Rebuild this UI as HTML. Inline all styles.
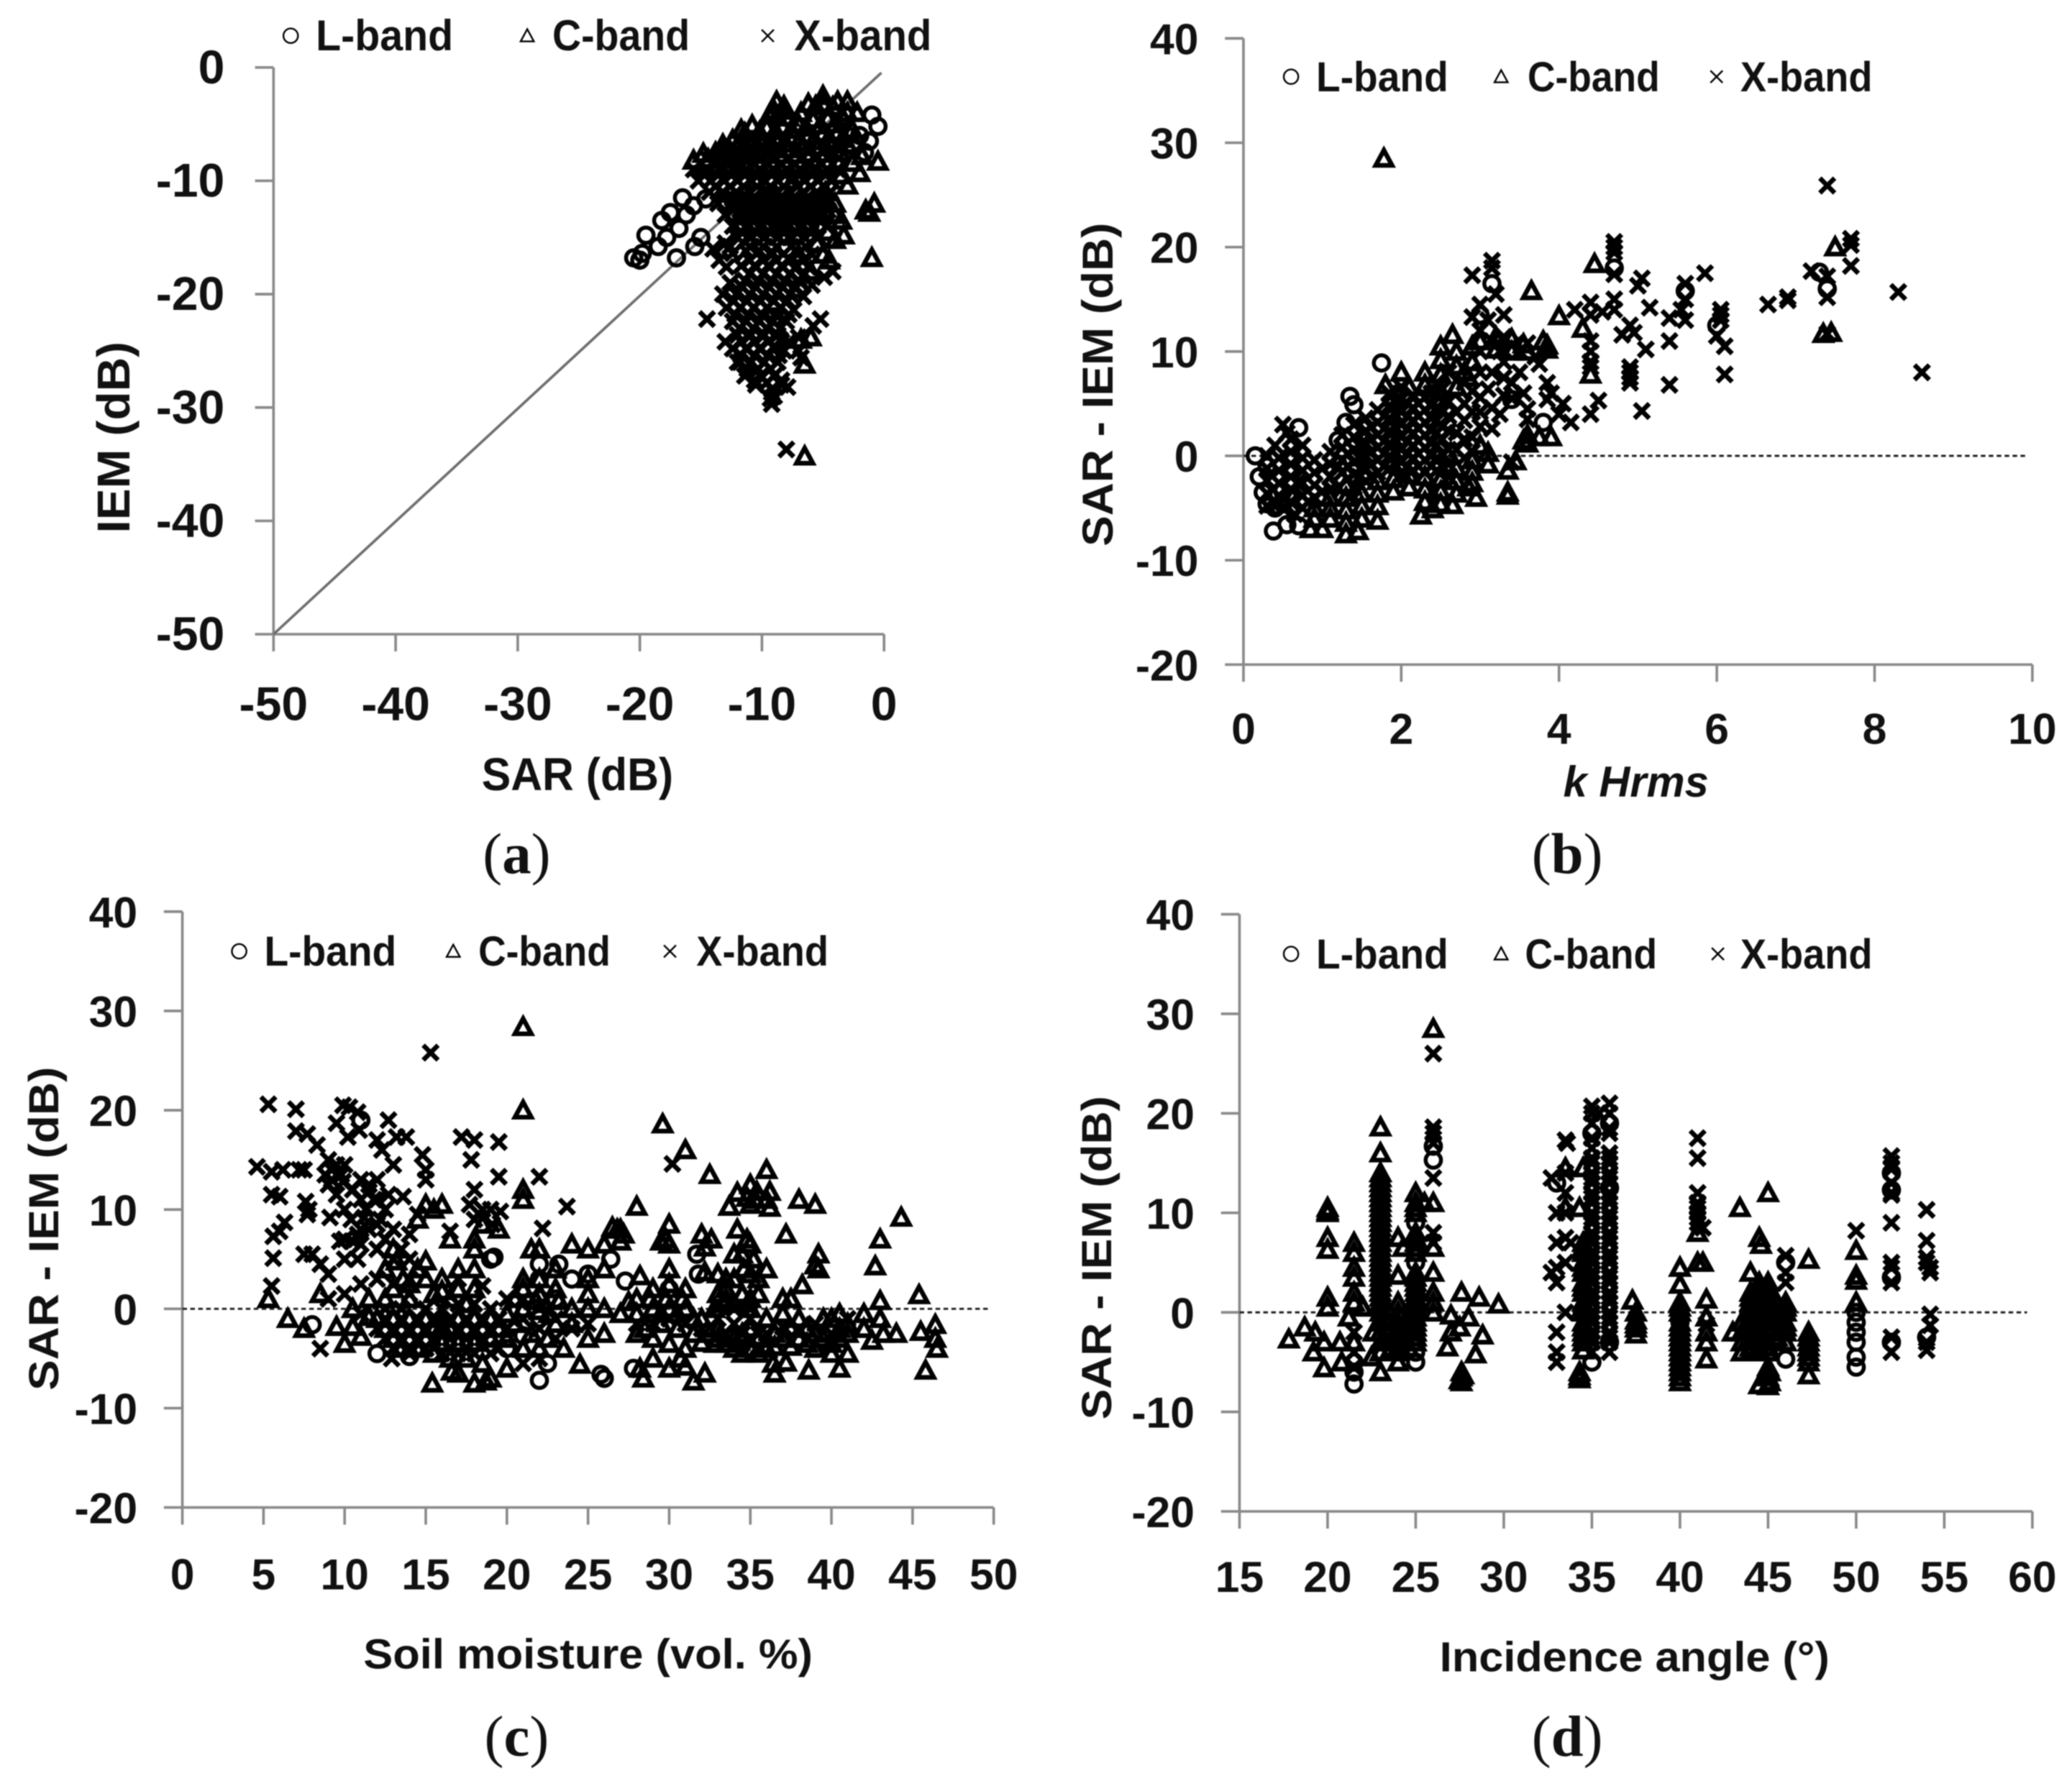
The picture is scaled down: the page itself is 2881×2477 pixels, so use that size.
<!DOCTYPE html>
<html lang="en">
<head>
<meta charset="utf-8">
<title>SAR vs IEM backscatter comparison</title>
<style>
html,body{margin:0;padding:0;background:#fff;}
#figure{display:block;width:2881px;height:2477px;filter:blur(0.9px);}
text{font-family:"Liberation Sans",sans-serif;font-weight:bold;fill:#111;}
.cap{font-family:"Liberation Serif",serif;font-weight:normal;font-size:44px;}
</style>
</head>
<body>
<svg id="figure" xmlns="http://www.w3.org/2000/svg" width="2881" height="2477" viewBox="0 0 1568 1348">
<rect width="1568" height="1348" fill="#fff"/>
<text class="cap" x="391" y="661" text-anchor="middle">(<tspan font-weight="bold">a</tspan>)</text>
<text class="cap" x="1186" y="661" text-anchor="middle">(<tspan font-weight="bold">b</tspan>)</text>
<text class="cap" x="391" y="1329" text-anchor="middle">(<tspan font-weight="bold">c</tspan>)</text>
<text class="cap" x="1186" y="1329" text-anchor="middle">(<tspan font-weight="bold">d</tspan>)</text>
</svg>
<script>
// ---------- tick labels ----------
const aTicks=[-50,-40,-30,-20,-10,0];
const bXTicks=[0,2,4,6,8,10];
const cXTicks=[0,5,10,15,20,25,30,35,40,45,50];
const dXTicks=[15,20,25,30,35,40,45,50,55,60];
const diffTicks=[-20,-10,0,10,20,30,40];
const bandNames=["L-band","C-band","X-band"];

// ---------- panel (a): SAR (x) vs IEM (y) ----------
const aL=[[-20.5,-16.8],[-20,-17],[-19.8,-16.4],[-19.5,-14.8],[-18.5,-15.8],[-18.2,-13.5],[-17.5,-12.8],[-17,-16.8],[-17.8,-15],[-16.5,-11.5],[-16.2,-13],[-15.5,-15.8],[-15,-15],[-16.8,-14.2],[-15.6,-12.2],[-0.5,-5.2],[-1,-4.2],[-1.2,-6.5],[-2,-6],[-2.5,-7],[-3,-6],[-1.6,-7.5],[-14.6,-11.6],[-8,-16],[-7,-19.5],[-9,-22]];
const aC=[[-6.5,-34.3],[-1,-16.8],[-0.8,-12],[-1.5,-12.6],[-1.2,-12.8],[-0.5,-8.3],[-2,-9.3],[-3,-10.4],[-3.5,-13.5],[-3.3,-14.8],[-4,-15.2],[-6,-23.8],[-6.5,-26.2],[-4.5,-17],[-4,-13],[-2.6,-8.4],[-3.5,-9.5],[-1.8,-7.8],
[-8.8,-3],[-8.2,-3.4],[-9.4,-4.2],[-5,-2.5],[-3,-3],[-4.2,-3.5],[-5.6,-3.4],[-6.8,-4],[-7.8,-4.4],[-2.2,-4],[-3.4,-4.4],[-4.6,-4.5],[-5.8,-4.6],[-7,-5],[-8.3,-5.2],[-9.6,-5.3],[-10.8,-5.1],[-11.7,-5.5],[-2.6,-5.5],[-3.8,-5.7],[-5,-5.8],[-6.2,-6],[-7.4,-6.1],[-8.8,-6.2],[-10,-6.3],[-11.2,-6.3],[-12.4,-6.4],[-13.2,-6.8],[-3,-6.8],[-4.2,-6.8],[-5.4,-7],[-6.6,-7],[-7.8,-7.2],[-9,-7.2],[-10.2,-7.3],[-11.4,-7.3],[-12.6,-7.4],[-13.8,-7.5],[-14.8,-7.6],[-15.6,-8.2],
[-4,-12],[-4.8,-11],[-5.4,-13],[-4.6,-14.5],[-5.5,-15.5],[-5,-16.5],[-6,-18],[-7,-16.5],[-8,-14],[-6.5,-12.5],[-9,-11],[-10.5,-10],[-12,-9],[-6,-9],[-7.5,-10],[-6.8,-24],
[-9,-3.8],[-8,-3.8],[-6.2,-3.2],[-5,-3.2],[-3.8,-3],[-3,-4],[-4,-5],[-5.2,-5.1],[-6.4,-5.3],[-7.6,-5.5],[-8.9,-5.6],[-10.2,-5.7],[-11.4,-5.8],[-3.4,-6.3],[-4.6,-6.4],[-5.8,-6.5],[-7,-6.6],[-8.2,-6.7],[-9.5,-6.8],[-10.8,-6.8],[-12,-6.9],[-13.2,-7.2],[-3.6,-7.5],[-4.8,-7.6],[-6,-7.6],[-7.2,-7.7],[-8.4,-7.7],[-9.6,-7.7],[-10.8,-7.7],[-12,-7.8],[-13.2,-7.9],[-14.4,-8.1]];
const aX=[[-8,-33.7],[-14.5,-22.2],[-13,-24.2],[-5.2,-22.2],[-5.8,-22.8],[-9.2,-29.7],[-9.3,-29.2],[-9,-29],[-7.9,-28.2],[-8.4,-27.6],[-10.5,-28],[-11.2,-27],[-11.8,-26],[-7,-23.8],[-7,-25],[-6.8,-25.6],
[-14.5,-8],[-13.4,-8],[-12.3,-8],[-11.2,-8],[-10.1,-8],[-9,-8],[-7.9,-8],[-6.8,-8],[-5.7,-8],[-4.6,-8],[-3.7,-8],
[-15.6,-9],[-14.6,-9],[-13.5,-9],[-12.4,-9],[-11.3,-9],[-10.2,-9],[-9.1,-9],[-8,-9],[-6.9,-9],[-5.8,-9],[-4.7,-9],[-3.8,-9],
[-15.2,-10],[-14.2,-10],[-13.1,-10],[-12,-10],[-10.9,-10],[-9.8,-10],[-8.7,-10],[-7.6,-10],[-6.5,-10],[-5.4,-10],[-4.3,-10],
[-14.3,-11],[-13.2,-11],[-12.1,-11],[-11,-11],[-9.9,-11],[-8.8,-11],[-7.7,-11],[-6.6,-11],[-5.5,-11],[-4.4,-11],
[-13.6,-12],[-12.5,-12],[-11.4,-12],[-10.3,-12],[-9.2,-12],[-8.1,-12],[-7,-12],[-5.9,-12],[-4.8,-12],
[-13,-13],[-11.9,-13],[-10.8,-13],[-9.7,-13],[-8.6,-13],[-7.5,-13],[-6.4,-13],[-5.3,-13],
[-12.4,-14],[-11.3,-14],[-10.2,-14],[-9.1,-14],[-8,-14],[-6.9,-14],[-5.8,-14],[-4.7,-14],
[-14,-16],[-13,-15.5],[-12,-15],[-10.9,-15],[-9.8,-15],[-8.7,-15],[-7.6,-15],[-6.5,-15],[-5.4,-15],
[-13.5,-17],[-12.4,-16.4],[-11.3,-16.2],[-10.2,-16.2],[-9.1,-16.4],[-7,-16.4],[-5.9,-16.5],
[-12.9,-17.6],[-11.7,-17.5],[-10.6,-17.5],[-9.5,-17.5],[-8.4,-17.5],[-7.3,-17.7],[-6.2,-17.6],[-4.9,-18.5],[-4.2,-18],
[-12.6,-19],[-11.4,-18.8],[-10.3,-18.8],[-9.2,-18.8],[-8.1,-18.8],[-7,-18.8],[-5.9,-19.2],
[-13.2,-20],[-12.1,-20],[-11,-20],[-9.9,-20],[-8.8,-20],[-7.7,-20],[-6.6,-20.2],
[-12.9,-21.2],[-11.8,-21.2],[-10.7,-21.2],[-9.6,-21.2],[-8.5,-21.2],[-7.4,-21.4],
[-12.4,-22.4],[-11.3,-22.4],[-10.2,-22.4],[-9.1,-22.4],[-8,-22.4],
[-12,-23.6],[-10.9,-23.6],[-9.8,-23.6],[-8.7,-23.6],[-7.8,-24.2],
[-12.4,-24.8],[-11.3,-24.8],[-10.2,-24.8],[-9,-24.6],[-8.2,-25],
[-12,-26],[-10.9,-26],[-9.8,-26],[-8.7,-26],[-11.4,-27.2],[-10.1,-27.2],[-9,-27.2],[-8.4,-28],
[-15,-8.5],[-13.9,-8.5],[-12.8,-8.5],[-11.7,-8.5],[-10.6,-8.5],[-9.5,-8.5],[-8.4,-8.5],[-7.3,-8.5],[-6.2,-8.5],[-5.1,-8.5],[-4.2,-8.5],
[-14.7,-9.5],[-13.6,-9.5],[-12.5,-9.5],[-11.4,-9.5],[-10.3,-9.5],[-9.2,-9.5],[-8.1,-9.5],[-7,-9.5],[-5.9,-9.5],[-4.8,-9.5],
[-13.8,-10.5],[-12.6,-10.5],[-11.5,-10.5],[-10.4,-10.5],[-9.3,-10.5],[-8.2,-10.5],[-7.1,-10.5],[-6,-10.5],[-4.9,-10.5],
[-13.2,-11.6],[-12,-11.6],[-10.8,-11.6],[-9.7,-11.6],[-8.6,-11.6],[-7.5,-11.6],[-6.4,-11.6],[-5.3,-11.6],
[-12.4,-12.6],[-11.3,-12.6],[-10.2,-12.6],[-9.1,-12.6],[-8,-12.6],[-6.9,-12.6],[-5.8,-12.6],[-4.6,-12.6],
[-11.8,-13.6],[-10.7,-13.6],[-9.6,-13.6],[-8.5,-13.6],[-7.4,-13.6],[-6.3,-13.6],[-5.2,-13.6],
[-11.6,-14.6],[-10.4,-14.6],[-9.3,-14.6],[-8.2,-14.6],[-7.1,-14.6],[-6,-14.6],
[-12.6,-15.8],[-11,-15.8],[-9.9,-15.8],[-8.8,-15.8],[-7.6,-15.8],[-6.4,-15.8],
[-11,-17],[-9.9,-17],[-8.8,-17],[-7.7,-17],[-6.6,-17],
[-11,-18.2],[-9.9,-18.2],[-8.8,-18.2],[-7.7,-18.2],[-6.5,-18.2],
[-11.6,-19.4],[-10.5,-19.4],[-9.4,-19.4],[-8.3,-19.4],[-7.2,-19.4],
[-11.2,-20.6],[-10.1,-20.6],[-9,-20.6],[-7.9,-20.6],
[-12.3,-20.6],[-12.2,-21.8],[-11.1,-21.8],[-10,-21.8],[-8.9,-21.8],[-7.8,-21.8],[-11.8,-23],[-10.7,-23],[-9.6,-23],[-8.5,-23],[-11.7,-24.2],[-10.6,-24.2],[-9.5,-24.2],[-8.4,-24.2],[-11.7,-25.4],[-10.6,-25.4],[-9.5,-25.4],[-8.6,-25.4],[-11.2,-26.6],[-10.3,-26.6],[-9.3,-26.6],[-10.6,-27.6],[-9.6,-27.8],[-9.2,-28.4]];

// ---------- panel (b): k Hrms (x) vs SAR-IEM (y) ----------
const bL=[[0.15,0],[0.38,-7.2],[0.55,-6.6],[0.7,2.7],[0.7,-6.7],[1.35,5.7],[1.4,4.9],[1.75,8.9],[1.3,3.2],[3.15,16.5],[3,13.5],[4.7,18],[5.6,15.8],[6,12.5],[7.4,16],[7.3,17.6],[0.2,-2],[0.25,-3.5],[0.3,-4.6],[0.4,-5],[0.3,-1],[0.5,-3.4],[0.5,-4.6],[1.2,1.5],[3.4,5.4],[3.8,3.2]];
const bC=[[1.78,28.5],[3.65,15.8],[4.45,18.4],[7.5,20],[7.45,11.8],[7.35,11.7],[4,13.4],[4.3,12.2],[2.65,11.6],[2.5,10.5],[2.9,10.5],[3.4,11.2],[3.55,10.7],[3.8,11],[3.85,10.2],[2,8],[2.3,8],[1.8,6.8],[2.8,8],[2.85,7.5],[4.4,7.8],[3.6,2],[3.9,1.8],[3.55,1.5],[3,1],[3.1,0.3],[3.35,-1.4],[3.45,-0.5],[3.35,-3.5],[3.35,-3.8],[2.95,-4],[2.85,-3],[2.9,-1.5],[2.65,-4.7],[2.4,-5.1],[2.25,-5.7],[1.7,-6.2],[1.45,-7.2],[1.3,-7.5],[0.85,-7],[1,-7],[1.1,-6],
[0.9,-6],[0.9,-5],[1.1,-5],[1.1,-4],[1.3,-6.4],[1.3,-5.2],[1.3,-4],[1.3,-2.8],[1.5,-6],[1.5,-4.8],[1.5,-3.6],[1.7,-4.8],[1.7,-3.6],[1.7,-2.4],[1.9,-3.4],[1.9,-2.2],[2.1,-3],[2.1,-1.8],[2.3,-4.4],[2.3,-3.2],[2.3,-2],[2.5,-4.6],[2.5,-3.4],[2.5,-2.2],[2.7,-3.6],[2.7,-2.4],[2.7,-1.2],[2.9,-2.6],[2.9,-0.4],[3.1,-0.8],
[2.5,9.2],[2.7,10],[2.5,7.8],[2.7,8.6],[2.9,9],[3.2,10.2],[3.4,10],[2.3,6.8],[2.1,6.6],[1.9,5.6],[2.5,6.2],[2.7,6.6],[3.85,10.6],[3.6,10],[3.2,11.4],[3,11],[3.75,1.8],[3.6,1.2]];
const bX=[[0.5,3],[0.55,2.2],[2.9,17.3],[3.15,18.7],[3.15,18],[3.2,15.5],[3,14.5],[2.9,13.3],[3.1,13],[3.3,13.5],[3.7,9.5],[3.85,7],[3.9,6],[4.05,5],[4.15,3.2],[4,4],[3.55,6],[3.6,4.5],[3.6,3.5],[3.4,5.5],[3.3,7.5],[3.4,7],[4.2,14],[4.4,14.7],[4.4,13.5],[4.55,13.8],[4.4,11],[4.4,10],[4.4,9],[4.4,8.5],[4.4,4],[4.5,5.3],[4.7,20.5],[4.7,20],[4.7,19.5],[4.7,17.4],[4.7,15],[4.7,14],[4.8,11.6],[4.9,12.5],[4.95,11.8],[4.9,8.5],[4.9,8],[4.9,7.5],[4.9,7],[5,16.3],[5.05,17],[5.05,4.3],[5.1,10.2],[5.15,14.2],[5.4,13.2],[5.4,11],[5.4,6.8],[5.6,16.5],[5.6,15],[5.55,14],[5.6,13],[5.85,17.5],[6.05,14],[6.05,13],[6,11.5],[6.1,10.5],[6.1,7.8],[6.05,13.5],[6.65,14.5],[6.9,15.2],[6.9,14.9],[7.2,17.7],[7.4,17.2],[7.4,25.9],[7.4,15.2],[7.4,11.7],[7.7,20.8],[7.7,20.2],[7.7,18.2],[8.3,15.7],[8.6,8],
[0.3,0],[0.3,-1.2],[0.3,-2.4],[0.3,-3.6],[0.3,-4.8],[0.4,1],[0.45,-0.2],[0.45,-1.4],[0.45,-2.6],[0.45,-3.8],[0.5,-5],[0.6,1.6],[0.6,0.4],[0.6,-0.8],[0.6,-2],[0.6,-3.2],[0.6,-4.4],[0.65,-5.6],[0.75,1],[0.75,-0.2],[0.75,-1.4],[0.75,-2.6],[0.75,-3.8],[0.75,-5],[0.9,-0.4],[0.9,-1.6],[0.9,-2.8],[0.9,-4],[1.1,0.4],[1.1,-0.8],[1.1,-2],[1.1,-3.2],
[1.25,2],[1.25,0.8],[1.25,-0.4],[1.25,-1.6],[1.4,3],[1.4,1.8],[1.4,0.6],[1.4,-0.6],[1.4,-1.8],[1.4,-3],[1.55,3.6],[1.55,2.4],[1.55,1.2],[1.55,0],[1.55,-1.2],[1.55,-2.4],[1.7,4.4],[1.7,3.2],[1.7,2],[1.7,0.8],[1.7,-0.4],[1.7,-1.6],[1.85,6],[1.85,4.8],[1.85,3.6],[1.85,2.4],[1.85,1.2],[1.85,0],[1.85,-1.2],[2,6.6],[2,5.4],[2,4.2],[2,3],[2,1.8],[2,0.6],[2,-0.6],[2,-1.8],[2.15,5.8],[2.15,4.6],[2.15,3.4],[2.15,2.2],[2.15,1],[2.15,-0.2],[2.15,-1.4],[2.3,5.6],[2.3,4.4],[2.3,3.2],[2.3,2],[2.3,0.8],[2.3,-0.4],[2.3,-1.6],[2.45,7],[2.45,5.8],[2.45,4.6],[2.45,3.4],[2.45,2.2],[2.45,1],[2.45,-0.2],[2.45,-1.4],[2.6,8],[2.6,5.2],[2.6,3.8],[2.6,2.4],[2.6,0.6],[2.6,-0.8],[2.8,7],[2.8,5],[2.8,3.4],[2.8,1.6],[2.8,-0.2],[3,12],[3,10],[3,8],[3,5.6],[3,4.2],[3,2.8],[3.15,11],[3.15,8],[3.15,4.6],[3.15,2.6],[3.3,11.4],[3.3,9],[3.3,5.8],[3.5,8],[3.5,10],
[0.38,-4.4],[0.68,-2.6],[0.82,-4.4],[1,-1.2],[1,-3.4],[1.2,-1],[1.2,-3],[1.35,-4],[2.7,4.2],[2.7,2.2],[2.7,0.6],[2.9,6.2],[2.9,4.2],[2.9,1.8],[2.9,0.4],[2.6,-2],[2.4,-3.4],[3.1,6.4],[3.25,4],[3.25,10],[3.4,10.6],[3.6,10.8],[3.75,8.8],[3.85,5.4],[3.4,-0.6],
[1.32,0.2],[1.32,-1],[1.32,-2.2],[1.47,1],[1.47,-0.2],[1.47,-2],[1.62,2.8],[1.62,1.6],[1.62,0.4],[1.62,-0.8],[1.62,-2],[1.78,3.8],[1.78,2.6],[1.78,1.4],[1.78,0.2],[1.78,-1],[1.92,5.2],[1.92,4],[1.92,2.8],[1.92,1.6],[1.92,0.4],[1.92,-0.8],[2.08,5],[2.08,3.8],[2.08,2.6],[2.08,1.4],[2.08,0.2],[2.08,-1],[2.22,5],[2.22,3.8],[2.22,2.6],[2.22,1.4],[2.22,0.2],[2.22,-1],[2.38,6],[2.38,4.8],[2.38,3.6],[2.38,2.4],[2.38,1.2],[2.38,0],[2.38,-1],[2.52,6.4],[2.52,4.2],[2.52,2.8],[2.52,1.6],[2.52,0.2],[2.52,-1]];

// ---------- panel (c): soil moisture (x) vs SAR-IEM (y) ----------
const cL=[[26.4,5],[27.3,2.8],[19,5],[14,-4.8],[12,-4.5],[8,-1.6],[22,-7.2],[26,-7],[25.8,-6.6],[27.8,-6],[22,4.5],[22,3],[22,1],[23.2,4.5],[24,3],[20,-4],[21,-2.7],[23,1],[31.7,5.5],[31.8,3.5],[11,19],[22,-1],[30,2],[35,-4.2],[34.5,-3.5],[19.2,5.2],[25,3.5],[22.5,-5.5]];
const cC=[[21,28.4],[21,20],[21,12],[21,11],[29.6,18.6],[31,16],[32.5,13.5],[36,14],[35,12.5],[34.8,11.2],[35.3,11],[36.2,11.8],[36.2,10.2],[34.2,11.7],[33.7,10.3],[38,11],[39,10.5],[37.2,7.5],[44.3,9.2],[43,7],[42.7,4.3],[45.4,1.4],[43,0.8],[39.2,5.5],[39.2,4],[39,4.4],[36,4],[34.2,8],[34.5,5.5],[35,6.5],[34,5.5],[30,8.5],[29.5,6.8],[30,6.5],[32,7.5],[32.6,7],[28,10.3],[26.5,8.2],[27,8],[27,6.8],[15,10.5],[16,10.5],[15.5,10],[16.5,7],[18,7],[18,6],[13,6],[14.5,4],[15,4.8],[12.5,4],[21.5,6],[22,6],[24,6.5],[25,6],[26,6.5],[28.2,3.3],[27.5,0.7],[33,3.5],[32.2,3.7],[30,4],[35,3.5],[38.2,2.4],[37,1],[45.8,-6.2],[45.5,-2.3],[46.5,-4],[46.4,-1.6],[46.4,-3],[44,-2.5],[43.2,-2.5],[42.5,-3.2],[40.5,-6],[38.6,-6.2],[36.4,-5.5],[36.5,-6.5],[37.2,-5.4],[32.2,-6.5],[31.5,-7.3],[31,-5.8],[30.7,-5],[30,-6],[29,-5],[28.4,-7],[28.2,-6],[24.5,-5.6],[15.4,-7.5],[16.6,-6.3],[17,-6.5],[18,-7.5],[18.7,-7.3],[19,-7],[20,-6],[5.3,1],[6.5,-1],[7.5,-2],[8.5,1.5],[10,-3.5],[18.5,8.5],[19.5,8],[14.5,9],[25,1.5],[33,1.5],[33.4,0.5],[32.8,0],
[12,-1],[13,-1],[14,-1],[15,-1],[16,-1],[17,-1],[18,-1],[19,-1],[20,-0.5],[21,0],[22,1.5],[23,2],[24,0],[25,0],[26,0],[27,-0.5],[28,-0.5],[29,0],[30,0],[31,0],[32,-1],[33,-2],[34,-3],[35,-2],[36,-1],[37,-0.5],[38,-1],[39,-2.5],[40,-1],[41,-2.5],[42,-0.5],[43,-1],
[13,-3],[14,-3],[15,-3],[16,-3.4],[17,-3.4],[18,-3.4],[19,-3],[20,-3],[21,-4],[22.5,-3],[23.5,-4],[25,-3],[26,-2.5],[28,-2.5],[29,-3],[30,-3.5],[31,-4],[32,-3.4],[33,-3],[34,-4],[35,-4],[36,-4],[37,-3],[38,-3],[39,-4],[40,-3.5],[41,-4.5],[42,-2],
[11.5,1],[12.5,1],[14,1],[15.5,1.5],[16.5,1],[17.5,0.5],[16,3],[17,4],[18,4],[21,2],[22,3],[23,4],[25,3],[26,4],[28,1],[29,2],[30,2.5],[31,2],[33.5,2],[34.5,1.5],[35.5,1.5],[37.5,1],[9.5,-1.8],[10.5,-1.8],[11,-2.8],
[12.5,-2],[13.5,-2],[14.5,-2],[15.5,-2],[16.5,-2],[17.5,-2],[18.5,-2],[19.5,-2],[16.5,-5],[17.5,-5],[18.5,-5.5],[15.5,-4.5],[14.5,-4],[13.5,-4],[29.5,-1.5],[30.5,-2],[31.5,-2.5],[33.5,-3.5],[34.5,-4.5],[35.5,-4.5],[34.5,-2.5],[35.5,-3],[33.5,1],[34,0.5],[35,0],[38.5,-2],[39.5,-1],[40.5,-2],[40,-4.5],[40.5,-0.5],[34.6,4],[35.2,5],[34.8,7],[35,10.5],[35.4,11.8],[36,11],[32.2,6.2],[29.8,7],[27.2,7.5],[26.8,8],[21.8,0.8],[22.6,-0.5],[23.2,0.8],[13.2,4.8],[13.6,3],
[28.5,-2],[29.5,-0.5],[30.5,-0.5],[31.5,-1],[32.5,-2.5],[28.8,1],[29.8,1],[30.8,1],[36.5,-2.5],[37.5,-2],[38.5,-3.5],[39.5,-3],[40.5,-3],[41,-1.5],[36.5,-3.8],[37.5,-3.8],[23,-1.5],[24,-1.5],[21.5,-2.5],[22,-4],[20.5,-1.5],[21,3],[22,-0.2],[16,-1.8],[20.5,1],[11.5,-0.8],[10.5,0],[32.8,-3.5],[33.5,3],[34,3],[35.5,3],[35,1],[13,2],[14,2.5],[16,1.8],[15,3],[17,2],[18,2]];
const cX=[[4.6,14.3],[5.3,20.6],[5.5,13.8],[6.2,14],[5.5,11.5],[6,11.3],[5.6,7.3],[6,7.8],[6.3,8.7],[5.6,5.1],[5.5,2.3],[7,20.1],[7,17.9],[7.7,17.6],[7.2,14],[7.5,14],[7.6,10.8],[7.8,10],[7.7,9.5],[8.3,16.5],[9,15],[9.2,14],[8.8,13.5],[9.6,13.5],[9.9,12.8],[10,14.5],[9.9,20.5],[10.3,20.3],[9.5,18.7],[10.8,19.8],[10.2,17.3],[10.9,18],[11,13],[11.5,12.5],[11,11],[11.8,11],[11.2,9.2],[10,7],[10.5,6.8],[10.8,5],[11,6.5],[9.1,9.2],[9.7,6.8],[8.5,4.5],[9,3.5],[8,5.5],[7.5,5.5],[8.5,-4],[12,17],[12.3,16],[12.7,19],[13.2,17.3],[13.8,17.3],[13,14.5],[12.7,11.5],[13.6,11.3],[12,11],[12.2,9],[13,8],[14,7.5],[14.5,9.5],[14.8,15.5],[15,14],[15,13],[15.3,25.8],[17.2,17.3],[18,17],[17.8,15],[18,12],[17.7,10.5],[18.5,10],[19.1,8.5],[19,10],[19.6,9.8],[19.5,13.3],[19.5,16.8],[22,13.3],[22.2,8.1],[23.7,10.3],[30.2,14.6],[18.5,2.3],[16.5,7.8],[12.9,-5],[14,-4.5],
[9.5,11.5],[10,10],[10.4,9],[9.2,13],[12,13],[12.5,10],[11.5,8],[11,8],[10,5],[12,6],[13,5],[14,5],[14,3],[9,1],[10,1.5],[11,2.5],[12,3],[13,2.5],[14,1.5],[18,9],[17,3],
[11,-0.5],[12,-2],[13,-2],[14,-2],[15,-2],[16,-2],[17,-2],[18,-2],[19,-2],[20,-2],[21,-1],[22,-2],[23,-1],[24,-2],[25,-1.5],[28,-1.5],[29,-1.5],[30,-1],[31,-1.5],[32,-2],[33,-1],[34,-1.5],[35,-1],[36,-2.5],[37,-1.8],[38,-2],[39,-1.5],[40,-2.5],[41,-1],[13,-4],[14,-4],[15,-4],[16,-4.5],[17,-4.5],[18,-4.5],[19,-4.5],[22,-5],[21,-5.5],[23,-3],[34.5,-2.5],[35,-3],[12.5,0],[13.5,0],[15,0],[16,0],[17,0.5],[18,0.5],[19,0],[20,1],[21,1],[33,0.5],[34,0],[35,0],
[12.5,-3],[13.5,-3],[14.5,-3],[15.5,-3],[16.5,-3],[17.5,-3],[18.5,-3],[19.5,-4],[12.5,-1],[13.5,-1],[14.5,-1],[15.5,-1],[16.5,-1],[17.5,-1],[18.5,-1],[19.5,-1],[33.5,-2.5],[35.5,-2.5],[34.5,-3.5],[35.5,-3.8],[9.5,14.5],[9.8,13.5],[10.5,12],[11.5,11.8],[11.3,10],[12,8.5],[9,12.5],[10.8,7.5],[12.5,7],[13.5,6]];

// ---------- panel (d): incidence angle (x) vs SAR-IEM (y) ----------
const dL=[[21.5,-7.2],[21.5,-6],[21.5,-5],[25,9],[25,5],[25,-5],[25,-4],[26,16.7],[26,15.3],[33,13],[35,18],[35,-5],[36,19],[36,12.5],[36,-3],[40,-1],[46,5],[46,-4.7],[50,-5.5],[50,-4.5],[50,-3],[50,-2],[50,-1],[50,0],[52,14],[52,12.3],[52,3.5],[52,-3],[54,-2.5]];
const dC=[[17.8,-2.7],[18.7,-1.5],[19.3,-2],[19.2,-4],[19.8,-3],[20.7,-3],[20.8,-5],[21.2,-0.5],[19.8,-5.6],[20,10.5],[20,10],[20,7.5],[20,6.3],[20,1.5],[20,0.5],[21.5,7],[21.5,6],[21.5,4.5],[21.5,3.5],[21.5,2],[21.5,1],[22,0.5],[21.5,-3],
[23,18.6],[23,16],[23,14],[23,13],[23,12],[23,11],[23,10],[23,9],[23,8],[23,7],[23,6],[23,5],[23,4],[23,3],[23,2],[23,1],[23,0],[23,-1],[23,-2],[23,-3],[23,-4],[22.5,-4.5],[23,-6],[22.6,-2],[23.5,-2],[23.5,0],[23.5,-4],
[24,7.5],[24.3,6.5],[24,3.7],[24,1],[24,0],[24,-1],[24,-2],[24,-3],[24,-4],[24,-5],[24.6,-2],[24.6,-3.6],[24.6,-0.5],
[25,12],[25,11],[25,10],[25,8],[25,7],[25,6],[25,4],[25,3],[25,2],[25,1],[25,0],[25,-1],[25,-2],[25,-3],[25.5,11],
[26,28.5],[26,11],[26,6.5],[26,4],[26,2],[26,1],[26,0],[26.8,-3.5],[27,-2],[27,-0.3],[27.5,-1.5],[28,-0.5],[27.6,2],[28.6,1.5],[28.8,-2.3],[28.4,-4.2],[29.7,0.8],[27.6,-6],[27.6,-6.5],[27.6,-7],
[33.5,14.5],[33.5,10.5],[34.3,10.5],[34.5,14.5],[34.5,7],[34.5,6],[34.5,5],[34.5,4],[34.5,3],[34.5,2],[34.5,1],[34.5,0],[34.5,-1],[34.5,-2],[34.5,-3],[34.5,-3.8],[34.3,-6],[34.3,-6.7],
[37.3,1.2],[37.5,0],[37.5,-0.8],[37.5,-1.6],[37.5,-2.2],
[40,4.5],[40,2.8],[40,1],[40,0],[40,-1],[40,-2],[40,-3],[40,-4],[40,-5],[40,-6],[40,-7],[41,8],[41,5],[41.3,5],[41.5,1.3],[41.5,-0.5],[41.5,-2],[41.5,-3],[41.5,-4.7],
[43.4,10.5],[44,4],[45,12],[44.5,7.5],[44.6,6.8],[43,-2],[43.5,-1],[43.5,-3],[43.5,-4],[44,0],[44,1],[44,2],[44,-1],[44,-2],[44,-3],[44,-4],[44.5,3],[44.5,2],[44.5,1],[44.5,0],[44.5,-1],[44.5,-2],[44.5,-3],[44.5,-4],[44.5,-7.3],[45,3],[45,2],[45,1],[45,0],[45,-1],[45,-2],[45,-3],[45,-4],[45,-5.5],[45,-6.5],[45,-7.4],[45.5,1],[45.5,-1],[45.5,-2],[45.5,-3],[46,1],[46,0],[46,-1],[46,-2],[46,-3],
[47.3,5.3],[47.3,-2],[47.3,-3],[47.3,-4],[47.3,-5],[47.3,-6.3],[50,6.2],[50,3.7],[50,3.2],[50,1],
[40,0.5],[40,-1.5],[40,-2.5],[40,-3.5],[40,-4.5],[40,-5.5],[40,-6.5],[37.5,-1.2],[27.7,-6.3],[27.5,-6.8],[45.1,-6],[45.1,-7],[47.3,-2.5],[47.3,-3.5],[47.3,-4.5],[44.2,-0.5],[44.2,-2.5],[44.8,-0.5],[44.8,-2.5],[43.8,-1.5],[23.2,-0.5],[23.2,-2.5],[23.6,-3],[24.3,-1.5],[24.3,-3],[20,10.2],[34.5,6.5],[34.5,4.5],[34.5,2.5],[34.5,0.5],[34.5,-1.5],[34.5,-2.5],[34.3,-6.4],
[23,13.5],[23,12.5],[23,11.5],[23,10.5],[23,9.5],[23,8.5],[23,7.5],[23,6.5],[23,5.5],[23,4.5],[23,3.5],[23,2.5],[23,1.5],[23,0.5],[25,10.5],[25,7.5],[25,6.5],[25,3.5],[25,2.5],[25,1.5],[25,0.5],[25,-0.5],[25,-1.5],[25,-2.5],[44.5,2.5],[44.5,1.5],[44.5,0.5],[44.5,-3.5],[45,2.5],[45,1.5],[45,0.5],[45,-3.5],[45.5,0],[45.5,-2.5],[44,0.5],[44,1.5],[44,-3.5],[43.5,-2],[46,0.5],[46,-1.5],[24,-3.5],[24,-1.5]];
const dX=[[26,26],[26,18.6],[26,18],[26,17],[26,13.5],[26,8],[26,7],[32.7,13.5],[33,10],[33,7],[33,4.5],[33,3],[33,-2],[33,-4],[33,-5],[32.7,4],[33.5,17.3],[33.6,17],[33.5,14],[33.5,12],[33.5,10],[33.5,7.5],[33.5,5],[33.5,0],[33.8,7],
[35,20.7],[35,20],[35,19],[35,17.5],[35,16.5],[35,15],[35,14],[35,13],[35,12],[35,11],[35,10],[35,9],[35,8],[35,7],[35,6],[35,5],[35,4],[35,3],[35,2],[35,1],[35,0],[35,-1],[35,-2],[35,-3],[35,-4],[35.4,20],
[36,21],[36,20],[36,18.5],[36,18],[36,16],[36,15],[36,14],[36,13],[36,12],[36,11],[36,10],[36,9],[36,8],[36,7],[36,6],[36,5],[36,4],[36,3],[36,2],[36,1],[36,0],[36,-1],[36,-2],[36,-3],[36,-4],
[41,17.5],[41,15.5],[41,12],[41,11],[41,10.5],[41,10],[41,9.5],[41,9],[41.3,8.5],[46,5.7],[46,4],[46,3],[50,8.2],[52,15.7],[52,15],[52,14.4],[52,13],[52,12],[52,11.8],[52,9],[52,5],[52,4.5],[52,3],[52,-2.5],[52,-4],[54,10.3],[54,7.2],[54,5.5],[54,5],[54.2,4.5],[54.2,4],[54.2,-0.2],[54.2,-1.3],[54,-3],[54,-3.8],[21.5,-2],[21.5,-4],[21.5,-5.5],[40,-0.5],[41.5,-1.2],[45,-0.5],[44,-1.6],
[35,15.5],[35,13.5],[35,11.5],[35,9.5],[35,7.5],[35,5.5],[35,3.5],[35,1.5],[35,-0.5],[35,-2.5],[36,15.5],[36,13.5],[36,11.5],[36,9.5],[36,7.5],[36,5.5],[36,3.5],[36,1.5],[36,-0.5],[36,-2.5]];

// ---------- drawing ----------
const NS='http://www.w3.org/2000/svg';
const root=document.getElementById('figure');

function line(parent,x1,y1,x2,y2,stroke,w,dash){
  const el=document.createElementNS(NS,'line');
  el.setAttribute('x1',x1);el.setAttribute('y1',y1);el.setAttribute('x2',x2);el.setAttribute('y2',y2);
  el.setAttribute('stroke',stroke);el.setAttribute('stroke-width',w);
  if(dash)el.setAttribute('stroke-dasharray',dash);
  parent.appendChild(el);
  return el;
}
function text(parent,str,x,y,size,anchor,len,rot,italic){
  const el=document.createElementNS(NS,'text');
  el.textContent=str;
  el.setAttribute('x',x);el.setAttribute('y',y);
  el.setAttribute('font-size',size);
  el.setAttribute('text-anchor',anchor);
  if(len){el.setAttribute('textLength',len);el.setAttribute('lengthAdjust','spacingAndGlyphs');}
  if(rot)el.setAttribute('transform','rotate(-90 '+x+' '+y+')');
  if(italic)el.setAttribute('font-style','italic');
  parent.appendChild(el);
  return el;
}
function circle(parent,x,y,r,w){
  const el=document.createElementNS(NS,'circle');
  el.setAttribute('cx',x);el.setAttribute('cy',y);el.setAttribute('r',r);
  el.setAttribute('fill','none');el.setAttribute('stroke','#000');el.setAttribute('stroke-width',w);
  parent.appendChild(el);
  return el;
}
function triangle(parent,x,y,r,w){
  const el=document.createElementNS(NS,'polygon');
  el.setAttribute('points',(x-r)+','+(y+r*0.85)+' '+(x+r)+','+(y+r*0.85)+' '+x+','+(y-r));
  el.setAttribute('fill','none');el.setAttribute('stroke','#000');el.setAttribute('stroke-width',w);
  parent.appendChild(el);
  return el;
}
function cross(parent,x,y,r,w){
  const el=document.createElementNS(NS,'path');
  el.setAttribute('d','M'+(x-r)+' '+(y-r)+'L'+(x+r)+' '+(y+r)+'M'+(x-r)+' '+(y+r)+'L'+(x+r)+' '+(y-r));
  el.setAttribute('fill','none');el.setAttribute('stroke','#000');el.setAttribute('stroke-width',w);
  parent.appendChild(el);
  return el;
}

function drawPanel(cfg,xTicks,yTicks,L,C,X){
  const g=document.createElementNS(NS,'g');
  
  
  root.appendChild(g);
  const sx=v=>cfg.x0+(v-xTicks[0])/(xTicks[xTicks.length-1]-xTicks[0])*(cfg.x1-cfg.x0);
  const sy=v=>cfg.y1-(v-yTicks[0])/(yTicks[yTicks.length-1]-yTicks[0])*(cfg.y1-cfg.y0);
  const axisColor='#8a8a8a';

  const yAxis=line(g,cfg.x0,cfg.y0,cfg.x0,cfg.y1,axisColor,2);
  
  
  const xAxis=line(g,cfg.x0,cfg.y1,cfg.x1,cfg.y1,axisColor,2);
  
  

  xTicks.forEach(t=>{
    const tick=line(g,sx(t),cfg.y1,sx(t),cfg.y1+13,axisColor,2);
    
    
    const lab=text(g,String(t),sx(t),cfg.y1+cfg.xLabelDy,cfg.tickSize,'middle');
    
    
  });
  yTicks.forEach(t=>{
    const tick=line(g,cfg.x0-14,sy(t),cfg.x0,sy(t),axisColor,2);
    
    
    const lab=text(g,String(t),cfg.x0-cfg.yLabelDx,sy(t)+12,cfg.tickSize,'end');
    
    
  });

  if(cfg.refLine==='diagonal'){
    const ref=line(g,sx(-50),sy(-50),sx(0)-2,sy(0)+4,'#6e6e6e',2);
    
    
  }else{
    const zero=line(g,cfg.x0,sy(0),cfg.x1-4,sy(0),'#222',1.6,'3.5 2.5');
    
    
  }

  L.forEach(p=>{
    const m=circle(g,sx(p[0]),sy(p[1]),5.8,3);
    
    
  });
  C.forEach(p=>{
    const m=triangle(g,sx(p[0]),sy(p[1]),6.2,3.5);
    
    
  });
  X.forEach(p=>{
    const m=cross(g,sx(p[0]),sy(p[1]),5.6,3.6);
    
    
  });

  const xt=text(g,cfg.xTitle,cfg.xTitleX,cfg.xTitleY,cfg.titleSize,'middle',cfg.xTitleLen,false,cfg.xItalic);
  
  
  const yt=text(g,cfg.yTitle,cfg.yTitleX,cfg.yTitleY,cfg.titleSize,'middle',cfg.yTitleLen,true);
  
  

  const leg=cfg.legend;
  const m1=circle(g,leg.mx[0],leg.y,5.5,1.3);
  
  
  const m2=triangle(g,leg.mx[1],leg.y,5,1.3);
  
  
  const m3=cross(g,leg.mx[2],leg.y,4.6,1.3);
  
  
  bandNames.forEach((n,i)=>{
    const t=text(g,n,leg.tx[i],leg.y+11,leg.size,'start',leg.len);
    
    
  });
}

drawPanel({name:'panel-a',x0:207,x1:669,y0:51,y1:480,xLabelDy:65,yLabelDx:37,tickSize:36,titleSize:35,refLine:'diagonal',
  xTitle:'SAR (dB)',xTitleX:437,xTitleY:598,xTitleLen:145,yTitle:'IEM (dB)',yTitleX:98,yTitleY:331,yTitleLen:145,
  legend:{y:27,mx:[220,399,581],tx:[239,418,601],size:33,len:104}},aTicks,aTicks,aL,aC,aX);
drawPanel({name:'panel-b',x0:941,x1:1538,y0:29,y1:503,xLabelDy:60,yLabelDx:34,tickSize:33,titleSize:33,refLine:'zero',
  xTitle:'k Hrms',xTitleX:1238,xTitleY:603,xTitleLen:110,xItalic:true,yTitle:'SAR - IEM (dB)',yTitleX:842,yTitleY:291,yTitleLen:245,
  legend:{y:58,mx:[977,1136,1299],tx:[996,1156,1317],size:32,len:100}},bXTicks,diffTicks,bL,bC,bX);
drawPanel({name:'panel-c',x0:138,x1:752,y0:690,y1:1141,xLabelDy:62,yLabelDx:34,tickSize:33,titleSize:32,refLine:'zero',
  xTitle:'Soil moisture (vol. %)',xTitleX:445,xTitleY:1263,xTitleLen:340,yTitle:'SAR - IEM (dB)',yTitleX:44,yTitleY:930,yTitleLen:245,
  legend:{y:720,mx:[181,343,507],tx:[200,362,527],size:32,len:100}},cXTicks,diffTicks,cL,cC,cX);
drawPanel({name:'panel-d',x0:938,x1:1538,y0:692,y1:1144,xLabelDy:61,yLabelDx:34,tickSize:33,titleSize:32,refLine:'zero',
  xTitle:'Incidence angle (°)',xTitleX:1237,xTitleY:1265,xTitleLen:295,yTitle:'SAR - IEM (dB)',yTitleX:841,yTitleY:952,yTitleLen:245,
  legend:{y:722,mx:[977,1136,1300],tx:[996,1154,1317],size:32,len:100}},dXTicks,diffTicks,dL,dC,dX);
</script>
</body>
</html>
